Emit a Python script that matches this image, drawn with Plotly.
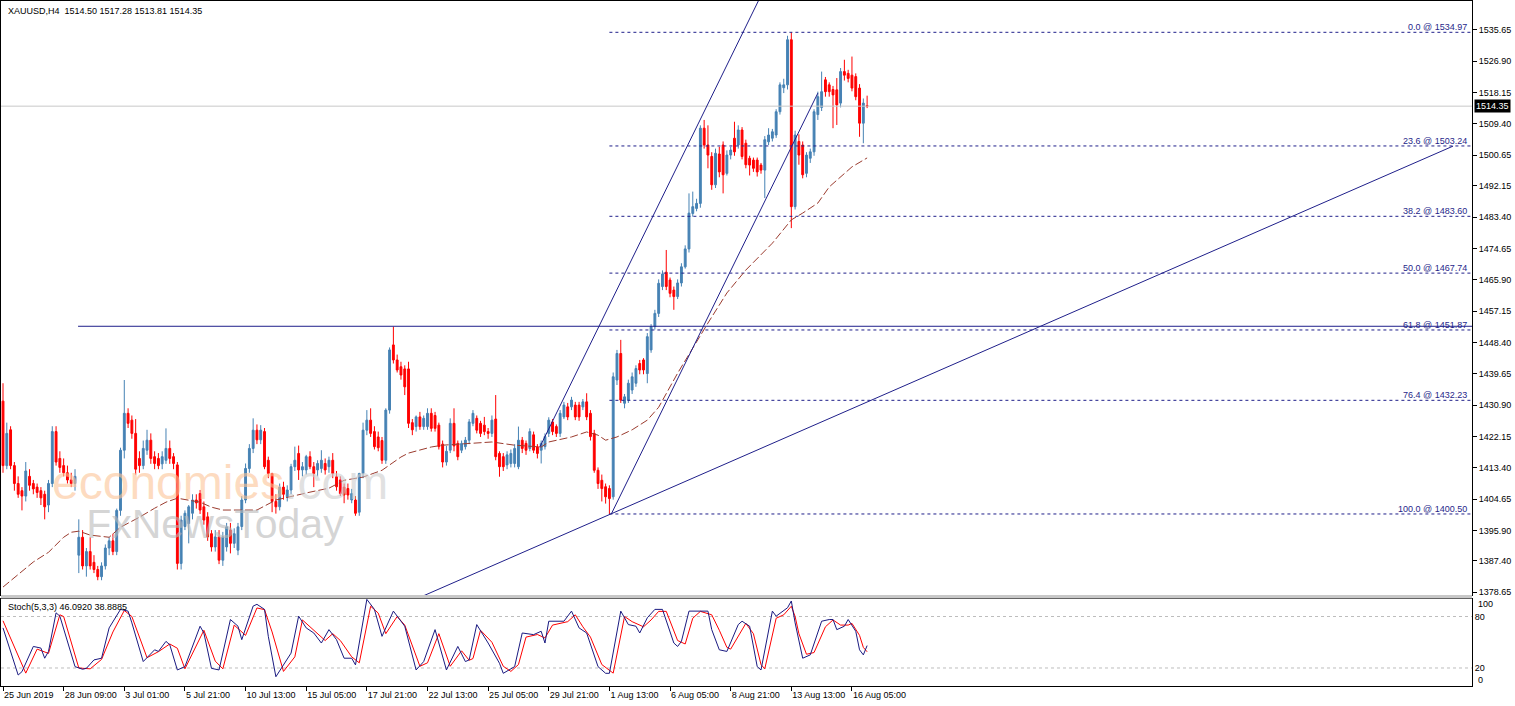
import plotly.graph_objects as go

# ---------------- data ----------------
bar_index = list(range(229))

opens = [1432,1414,1424,1414,1409,1407,1405.5,1411,1409,1408,1407,1406,1403,1409,1423.5,1416,1414,1412,1410,1409,
1389,1394,1386,1390,1387,1385,1383,1386,1391,1393,1390,1401.5,1418.3,1428.6,1426.7,1423,1416,1414,1418.3,1421.1,
1416.5,1416,1414.5,1415.5,1418.8,1416.5,1414.2,1386.7,1397,1397.8,1400.7,1404.4,1406.2,1402.5,1399.7,1395,1391.3,1394.1,1387.6,1391.3,
1396,1392.3,1390.4,1397,1404.4,1413.2,1418.8,1423.9,1421.2,1423.5,1415.5,1411.8,1404,1402.5,1408,1405.3,1407.2,1413.7,1417.4,1412.8,
1412.8,1416.5,1413.7,1412.8,1413.2,1414.6,1413.7,1415.5,1410.9,1410,1408,1407.6,1404.4,1404.4,1401,1411.8,1423.9,1426.7,1423.5,1422,
1421,1415.5,1429.5,1447.7,1443.5,1441.6,1441,1441,1426,1424.9,1427.6,1424.9,1424.9,1428.6,1428,1425.3,1420,1415,1418.3,1425.8,
1420.2,1418.3,1419.3,1421.1,1425.8,1427.2,1425.8,1425.3,1423.5,1423,1427,1417.4,1416.5,1414.2,1414.6,1414.6,1413.7,1421.1,1420.2,1418.8,
1422.6,1419.3,1418.3,1419.3,1423,1426.2,1424.9,1423,1427.6,1430.4,1430.4,1430.9,1430.9,1430.4,1431.8,1428.6,1423,1412.7,1409.9,1408.1,
1407.6,1405.3,1437.9,1445.3,1431.4,1432.3,1435.1,1437,1442.5,1443.5,1439.7,1446.3,1452.8,1456.5,1464,1468,1465.8,1463,1461.2,1465,
1469.5,1474.5,1484.4,1485.8,1487.2,1508.2,1503.5,1500.3,1492.4,1501,1503.5,1495.6,1500.7,1505.4,1503.5,1507.7,1504,1499.8,1499.3,1499.3,
1497.9,1496.5,1504.4,1505.4,1506.3,1512.8,1519.5,1520.3,1532.9,1486.3,1504.5,1503.5,1495.6,1499.8,1501.6,1512,1514,1521.7,1520.3,1519,
1518.9,1515.2,1524,1523.5,1523,1522.6,1519.4,1509.6,1514.50]

highs = [1437,1426,1425,1415,1411,1408,1415,1413,1410,1409,1408,1407,1410,1425,1425,1418,1416,1414,1412,1413,
1399,1396,1391,1394,1389,1386,1387,1392,1394,1395,1402,1419,1437.9,1430,1428,1427,1418,1421,1424,1423,
1418,1417.5,1418,1424.4,1421,1417.5,1415,1400,1401.5,1403,1406,1406,1407.2,1404,1401,1396,1396,1396,1395.5,1398,
1398,1396.5,1398,1405.5,1414.6,1420,1427.2,1425.5,1425.3,1424.5,1416.5,1412,1406,1409,1409.5,1408.5,1414.5,1419.3,1419.6,1415,
1417,1418,1415,1415.5,1418.3,1416,1416.5,1417.5,1412.5,1411,1409,1409,1407.5,1405.5,1412,1426,1429.5,1430,1425,1423.5,
1422,1430,1447,1452.8,1445,1443,1442,1443,1427,1428,1429,1428,1430,1430,1429,1426,1421,1419.5,1427.2,1430,
1421,1421,1422,1427,1429.5,1428,1426.5,1427.6,1424.5,1428,1433.7,1418,1417.5,1418,1418.5,1420,1424.9,1422,1421,1424.4,
1423.5,1420,1421,1423,1427.5,1427,1425.5,1429.5,1431.8,1431.5,1433.2,1431.8,1431.8,1432.6,1434.2,1429.5,1424,1413.5,1411.5,1409,
1408.5,1440,1446.3,1449.1,1434,1438,1440,1442,1443.5,1444,1451,1453.5,1457.5,1466,1468.5,1474.2,1466.5,1464,1466,1470.5,
1475.5,1490,1490.5,1488.5,1509,1510.5,1509,1501.5,1502.5,1503,1504.5,1502,1503,1510,1509,1508.5,1505,1500.5,1500,1500,
1498.5,1506,1508.2,1508,1513.5,1521,1522,1534,1534.97,1507.5,1506.5,1504.5,1501.5,1502.5,1513.5,1518.4,1524,1522.5,1521,1520,
1522.2,1525,1527.3,1524.5,1528.2,1523.5,1520.5,1516.5,1517.28]

lows = [1412,1413,1413,1407,1405,1401.5,1404,1407,1406,1405,1403,1399,1401,1408,1414,1412,1411,1409,1408,1407,
1384,1385,1383,1385,1384,1382,1382,1385,1389,1389,1389,1400,1416,1424.5,1421.5,1411.5,1412,1413,1417,1414.5,
1413,1413,1413,1414.5,1414.5,1413,1385,1385,1396,1392.3,1399,1402,1400.5,1397.5,1393,1390,1390,1386.5,1386,1390,
1389.5,1391,1389,1396,1403.5,1412,1417.5,1420,1420,1413,1410.5,1401,1400.6,1401.5,1404.5,1404,1406,1412.5,1410,1411,
1411.5,1413,1408,1411,1412,1411.5,1412,1410.5,1407,1405.5,1403.5,1404.5,1403.5,1400,1400,1410.5,1422.5,1422,1418.5,1418,
1414.5,1414.5,1428.5,1442.5,1440,1438,1433.7,1424.5,1422.5,1423.5,1424,1424,1424,1423.5,1423.5,1418.5,1413.5,1414,1417.5,1418,
1415.5,1417.5,1418.5,1420,1425,1423,1422,1422.5,1421.5,1422,1415.5,1410.9,1412.5,1413,1413.5,1413.5,1413,1417.5,1417,1418,
1417.5,1416,1414.6,1418.5,1422,1422.5,1422,1422,1427,1426.7,1429.5,1426.7,1426.5,1429.5,1426.7,1421,1412,1407.5,1404,1403.4,
1400.5,1404.5,1436.5,1431.5,1430,1431.5,1434,1436,1439.5,1439.5,1437,1445.5,1452,1455.5,1463,1463,1461,1457.5,1460.5,1464,
1469,1473.5,1483.5,1485,1486,1502.5,1497,1491,1491.5,1494.5,1490,1495,1499.5,1500.5,1502.5,1499.5,1497,1495,1496,1494.7,
1495.5,1488.7,1503.5,1504.5,1505.5,1512,1518,1519,1480.3,1485.5,1498,1494.2,1494.5,1498.5,1500.5,1510.5,1513,1517,1517,1508.2,
1509.1,1514,1521.5,1521,1518.5,1516,1505.8,1504,1513.81]

closes = [1414,1423,1414,1409,1406,1405.5,1412.5,1408.5,1407.5,1406.5,1405,1402.5,1409,1423.5,1415,1413.5,1412,1410,1409,1411,
1394,1386,1390,1386,1385,1383,1386,1391,1393,1390,1401.5,1418.3,1428.6,1425.8,1423,1413,1414,1418.8,1421.1,1416,
1414.6,1414,1416.5,1418.8,1416,1414.6,1386.7,1398.8,1400.7,1402.5,1404.4,1403.6,1401.6,1398.8,1394.1,1391.3,1394.1,1387.6,1394.1,1396.9,
1392.3,1395,1396.9,1404.4,1413.2,1418.8,1423.9,1421.2,1423.9,1413.7,1411.8,1404,1402.5,1408,1406,1407.2,1413.7,1415.5,1412.8,1413.7,
1416.5,1413.7,1411.8,1414.6,1415.5,1412.8,1415.5,1411.8,1408.1,1406.2,1405.8,1405.8,1406.2,1400.7,1411.8,1423.9,1426.7,1423,1419.3,1419,
1415.5,1429.5,1446.3,1443.5,1440.7,1439.3,1436,1425.8,1424,1427.6,1424.9,1427.2,1428.6,1424.4,1424.4,1419.3,1415,1418,1425.8,1419.5,
1416.5,1420.2,1421.1,1426.2,1428.6,1423.9,1423,1423.5,1423,1426.7,1416.5,1413.7,1413.7,1417,1417.4,1418.8,1421.1,1418.8,1418.3,1423.5,
1418.3,1417.4,1420.2,1422.1,1426.7,1423.5,1423,1428.6,1430.9,1427.6,1432.3,1427.6,1427.6,1431.8,1427.6,1422.1,1412.7,1409,1407.6,1405.3,
1404.8,1438.8,1445.3,1432.3,1433.2,1437,1438.8,1441.1,1440.7,1440.7,1450,1452.8,1456.5,1464.9,1467.5,1464,1462.1,1461.2,1465,1469.5,
1474.5,1484.5,1486.3,1487.2,1508.2,1503.5,1500.7,1492.4,1501.2,1496,1495.2,1500.7,1502.1,1501.6,1507.7,1500.3,1498,1497.9,1497,1496,
1496.5,1505,1506.3,1507.2,1512.8,1520.3,1520.3,1532.9,1486.3,1506.3,1500.7,1495.2,1500.7,1501.6,1512.8,1517,1518.4,1518.4,1518.4,1517.5,
1514.7,1524,1523,1522.1,1519.4,1517,1509.6,1515.2,1514.35]

# moving average, read at the bars where its path is visible
ma_idx = [0,8,12,16,18,20,23,26,28,31,36,40,43,46,52,55,58,67,72,81,86,90,95,100,105,107,113,116,124,129,
          135,142,144,150,154,157,159,162,166,170,173,178,186,191,196,203,208,211,215,218,224,228]
ma_val = [1380.1,1387.1,1389.8,1394.0,1395.4,1395.7,1394.6,1394.3,1394.0,1396.8,1399.6,1402.1,1403.8,1404.9,1403.8,
          1402.4,1401.6,1401.6,1404.4,1406.6,1407.7,1409.9,1410.8,1412.7,1416.4,1417.5,1419.2,1419.7,1420.3,1420.6,
          1419.7,1419.2,1420.6,1422.0,1423.4,1422.5,1421.1,1422.0,1424.0,1426.7,1430.3,1439.8,1453.8,1462.2,1468.6,
          1476.1,1482.6,1484.5,1487.3,1491.8,1497.4,1499.9]

# stochastic %K and %D, read at their turning points
k_idx = [0,4,5,8,10,11,12,14,15,19,21,22,24,26,28,31,33,34,37,40,41,43,44,46,48,52,53,55,57,60,62,63,66,67,69,70,72,
         76,78,80,82,84,86,88,90,92,93,96,98,100,103,106,109,111,114,117,120,122,123,125,128,131,132,135,137,140,142,
         143,144,148,150,152,154,157,159,160,163,165,167,168,170,172,174,177,178,179,181,183,186,187,189,191,194,195,
         197,199,200,203,204,207,208,209,211,213,216,218,219,220,222,223,225,226,227,228]
k_val = [66.7,11.8,15.7,45.1,43.2,31.4,39.3,84.3,80.4,21.6,18.5,19.6,29.4,31.4,66.7,88.3,86.3,72.6,27.5,41.2,39.3,51.0,
         47.1,17.7,21.6,68.7,60.8,19.6,17.7,76.5,68.7,53.0,92.2,94.2,88.3,56.9,9.8,37.3,80.4,66.7,60.8,49.1,64.7,53.0,
         31.4,31.4,23.6,100,88.3,56.9,86.3,68.7,17.7,27.5,64.7,17.7,45.1,27.5,29.4,70.6,49.1,25.5,13.8,21.6,60.8,58.9,
         62.8,49.1,74.5,74.5,86.3,66.7,60.8,21.6,13.8,13.8,86.3,70.6,68.7,60.8,78.5,88.3,88.3,49.1,45.1,51.0,86.3,86.3,
         86.3,64.7,41.2,39.3,70.6,74.5,68.7,21.6,17.7,86.3,80.4,90.2,98.1,72.6,31.4,35.3,74.5,76.5,76.5,64.7,68.7,76.5,
         62.8,41.2,35.3,46.092]
d_idx = [0,6,9,12,15,16,20,23,26,29,32,34,38,41,44,46,48,53,56,58,61,64,67,69,71,74,77,79,81,85,87,89,92,94,97,99,
         101,104,106,110,112,115,118,121,123,124,126,129,132,134,136,138,141,143,145,149,151,153,155,158,161,164,166,
         169,171,173,175,178,180,182,184,187,189,191,192,195,196,198,200,201,204,206,208,209,210,212,214,217,219,221,
         223,224,226,227,228]
d_val = [75,14,42,37,82,80,20,19,30,62,87,80,32,39,48,43,19,64,28,19,70,58,90,88,62,16,33,76,68,52,60,52,33,26,92,84,
         60,80,70,22,26,60,22,40,29,31,64,50,22,16,24,56,59,55,70,74,82,68,56,24,14,80,74,68,76,86,86,52,48,78,86,82,64,
         44,42,65,72,60,24,19,78,82,92,80,60,36,38,68,76,70,70,72,58,44,38.8885]

time_tick_idx = [0,16,32,48,64,80,96,112,128,144,160,176,192,208,224]
time_tick_text = ["25 Jun 2019","28 Jun 09:00","3 Jul 01:00","5 Jul 21:00","10 Jul 13:00","15 Jul 05:00",
                  "17 Jul 21:00","22 Jul 13:00","25 Jul 05:00","29 Jul 21:00","1 Aug 13:00","6 Aug 05:00",
                  "8 Aug 21:00","13 Aug 13:00","16 Aug 05:00"]
price_ticks = [1535.65,1526.90,1518.15,1509.40,1500.65,1492.15,1483.40,1474.65,1465.90,1457.15,1448.40,
               1439.65,1430.90,1422.15,1413.40,1404.65,1395.90,1387.40,1378.65]

fib_pct = ["0.0","23.6","38.2","50.0","61.8","76.4","100.0"]
fib_lvl = [1534.97,1503.24,1483.60,1467.74,1451.87,1432.23,1400.50]
fib_start = 160

# trend lines: (bar, price) end points
hline = ([19.8, 387.6], [1452.9, 1452.9])
channel_low = ([160.5, 215.0], [1400.5, 1518.0])
channel_up = ([141.7, 206.0], [1419.3, 1558.2])
long_trend = ([108.0, 382.6], [1376.3, 1503.2])

last_price = 1514.35
header = "XAUUSD,H4\u00a0\u00a01514.50 1517.28 1513.81 1514.35"
stoch_label = "Stoch(5,3,3) 46.0920 38.8885"

# ---------------- figure ----------------
NAVY = "#1f1f8a"
FONT = "Liberation Sans"
XR = [-0.53, 387.6]

fig = go.Figure()

fig.add_trace(go.Scatter(x=[XR[0], XR[1]], y=[last_price, last_price], mode="lines",
                         line=dict(color="#C8C8C8", width=1), hoverinfo="skip", showlegend=False))

for lvl in fib_lvl:
    fig.add_trace(go.Scatter(x=[fib_start, XR[1]], y=[lvl, lvl], mode="lines",
                             line=dict(color=NAVY, width=1, dash="3px,3px"), hoverinfo="skip", showlegend=False))

fig.add_trace(go.Scatter(x=ma_idx, y=ma_val, mode="lines",
                         line=dict(color="#9b3b2e", width=1, dash="8px,3px"), hoverinfo="skip", showlegend=False))

fig.add_trace(go.Candlestick(x=bar_index, open=opens, high=highs, low=lows, close=closes,
                             increasing=dict(line=dict(color="#4682B4", width=1), fillcolor="#4682B4"),
                             decreasing=dict(line=dict(color="#FF0000", width=1), fillcolor="#FF0000"),
                             whiskerwidth=0, hoverinfo="skip", showlegend=False))

for xs, ys in (hline, channel_low, channel_up, long_trend):
    fig.add_trace(go.Scatter(x=xs, y=ys, mode="lines", line=dict(color=NAVY, width=1),
                             hoverinfo="skip", showlegend=False))

# stochastic panel
for lv in (20, 80):
    fig.add_trace(go.Scatter(x=[XR[0], XR[1]], y=[lv, lv], mode="lines", xaxis="x2", yaxis="y2",
                             line=dict(color="#BDBDBD", width=1, dash="3px,3px"), hoverinfo="skip", showlegend=False))
fig.add_trace(go.Scatter(x=d_idx, y=d_val, mode="lines", xaxis="x2", yaxis="y2",
                         line=dict(color="#FF0000", width=1), hoverinfo="skip", showlegend=False))
fig.add_trace(go.Scatter(x=k_idx, y=k_val, mode="lines", xaxis="x2", yaxis="y2",
                         line=dict(color="#1a1a80", width=1), hoverinfo="skip", showlegend=False))

PH = 685.0
def py(px):
    return (686.0 - px) / PH

annotations = []
annotations.append(dict(xref="paper", yref="paper", x=0, y=1, xanchor="left", yanchor="top", xshift=5, yshift=-3,
                        text=header, showarrow=False, font=dict(family=FONT, size=9, color="black")))
annotations.append(dict(xref="paper", yref="paper", x=0, y=py(599), xanchor="left", yanchor="top", xshift=5, yshift=-1,
                        text=stoch_label, showarrow=False, font=dict(family=FONT, size=9, color="black")))
for p, lvl in zip(fib_pct, fib_lvl):
    annotations.append(dict(xref="paper", yref="y", x=1, y=lvl, xanchor="right", yanchor="bottom", xshift=-3, yshift=-2,
                            text=f"{p} @ {lvl:.2f}", showarrow=False, font=dict(family=FONT, size=9, color=NAVY)))
annotations.append(dict(xref="paper", yref="y", x=1, y=last_price, xanchor="left", yanchor="middle", xshift=2,
                        text=f"{last_price:.2f}", showarrow=False, bgcolor="black", borderpad=1,
                        font=dict(family=FONT, size=9, color="white")))
annotations.append(dict(xref="paper", yref="y2", x=1, y=100, xanchor="left", yanchor="middle", xshift=4, yshift=-5,
                        text="100", showarrow=False, font=dict(family=FONT, size=9, color="black")))
annotations.append(dict(xref="paper", yref="y2", x=1, y=0, xanchor="left", yanchor="middle", xshift=4, yshift=5,
                        text="0", showarrow=False, font=dict(family=FONT, size=9, color="black")))
# watermark (one two-line text block)
wm_text = ("<span style='font-size:48px;color:rgba(252,196,150,0.6)'>economies</span>"
           "<span style='font-size:48px;color:rgba(205,205,205,0.6)'>.com</span><br>"
           "<span style='font-size:41px;color:rgba(185,185,185,0.6)'>\u00a0\u00a0\u00a0FxNewsToday</span>")
annotations.append(dict(xref="paper", yref="paper", x=(50 - 1) / 1471, y=py(502), xanchor="left", yanchor="middle",
                        align="left", text=wm_text, showarrow=False, font=dict(family=FONT, size=30)))

shapes = [dict(type="rect", xref="paper", yref="paper", x0=0, x1=1, y0=py(598.5), y1=py(595),
               fillcolor="#C8C8C8", line=dict(width=0), layer="above")]

fig.update_layout(
    width=1515, height=706,
    margin=dict(l=1, r=43, t=1, b=20),
    paper_bgcolor="white", plot_bgcolor="white",
    showlegend=False,
    font=dict(family=FONT, size=9, color="black"),
    xaxis=dict(domain=[0, 1], anchor="y", range=XR, showticklabels=False, ticks="",
               showgrid=False, zeroline=False, showline=True, mirror=True, linecolor="black", linewidth=1,
               rangeslider=dict(visible=False)),
    yaxis=dict(domain=[py(595), 1], anchor="x", side="right", range=[1377.88, 1543.71], automargin=False,
               tickvals=price_ticks, ticktext=[f"{v:.2f}" for v in price_ticks],
               ticks="outside", ticklen=4, tickcolor="black", showgrid=False, zeroline=False,
               showline=True, mirror=True, linecolor="black", linewidth=1,
               tickfont=dict(family=FONT, size=9, color="black")),
    xaxis2=dict(domain=[0, 1], anchor="y2", range=XR, matches="x", automargin=False, tickangle=0,
                tickvals=time_tick_idx, ticktext=time_tick_text, ticks="outside", ticklen=4, tickcolor="black",
                ticklabelposition="outside right", showgrid=False, zeroline=False,
                showline=True, mirror=True, linecolor="black", linewidth=1,
                tickfont=dict(family=FONT, size=9, color="black")),
    yaxis2=dict(domain=[0, py(598.5)], anchor="x2", side="right", range=[-1, 101], automargin=False,
                tickvals=[20, 80], ticktext=["20", "80"], ticks="", showgrid=False, zeroline=False,
                showline=True, mirror=True, linecolor="black", linewidth=1,
                tickfont=dict(family=FONT, size=9, color="black")),
    annotations=annotations,
    shapes=shapes,
)

fig.write_html("out.html", config={"displayModeBar": False},
               post_script="document.body.style.margin='0px';")
